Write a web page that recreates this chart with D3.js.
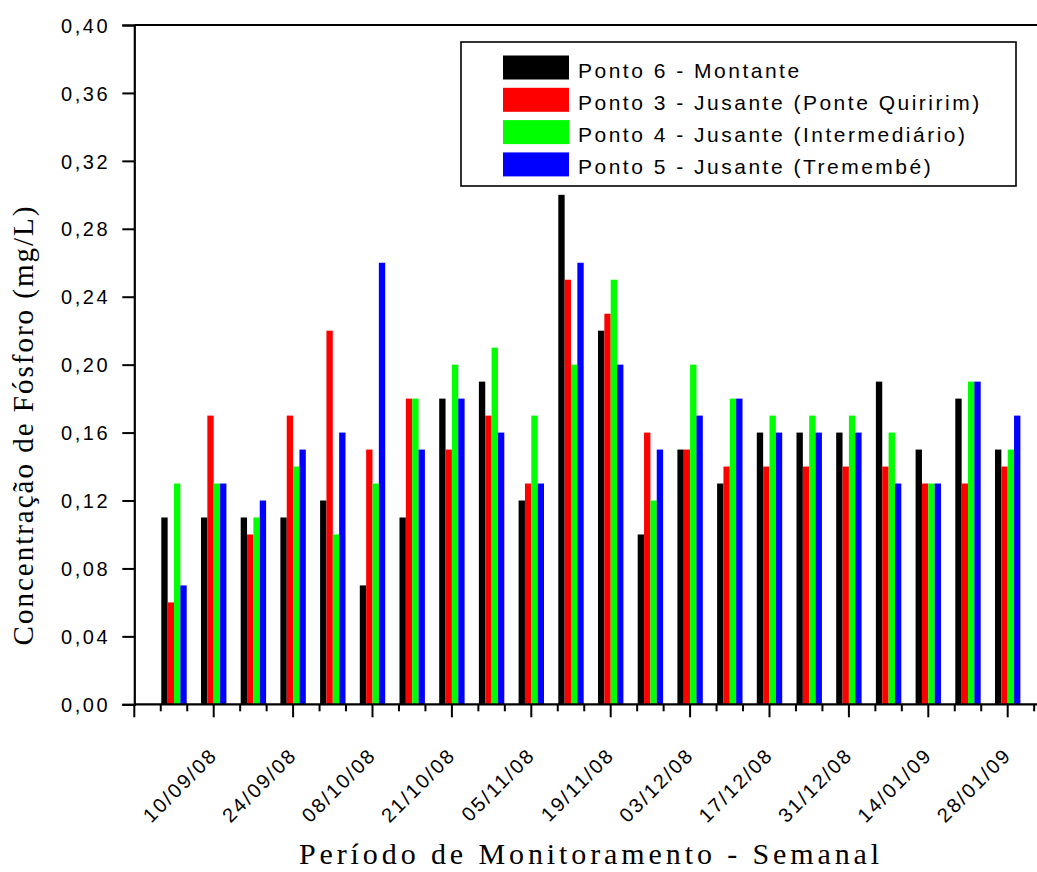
<!DOCTYPE html>
<html>
<head>
<meta charset="utf-8">
<script src="https://cdn.jsdelivr.net/npm/d3@7"></script>
<style>
  body { margin: 0; background: #fff; }
  text { fill: #000; }
</style>
</head>
<body>
<svg id="chart" width="1037" height="872"></svg>
<script>
// weekly samples, index 0..21 (labels only on every second one)
const semanas = [0, 1, 2, 3, 4, 5, 6, 7, 8, 9, 10, 11, 12, 13, 14, 15, 16, 17, 18, 19, 20, 21];
const tickIdx = [1, 3, 5, 7, 9, 11, 13, 15, 17, 19, 21];
const tickLabels = ["10/09/08", "24/09/08", "08/10/08", "21/10/08", "05/11/08", "19/11/08",
                    "03/12/08", "17/12/08", "31/12/08", "14/01/09", "28/01/09"];
const yTicks = [0, 0.04, 0.08, 0.12, 0.16, 0.20, 0.24, 0.28, 0.32, 0.36, 0.40];

const seriesNames = ["Ponto 6 - Montante", "Ponto 3 - Jusante (Ponte Quiririm)",
                     "Ponto 4 - Jusante (Intermediário)", "Ponto 5 - Jusante (Tremembé)"];
const colors = ["#000000", "#ff0000", "#00ff00", "#0000ff"];

const ponto6 = [0.11, 0.11, 0.11, 0.11, 0.12, 0.07, 0.11, 0.18, 0.19, 0.12, 0.30, 0.22, 0.10, 0.15, 0.13, 0.16, 0.16, 0.16, 0.19, 0.15, 0.18, 0.15];
const ponto3 = [0.06, 0.17, 0.10, 0.17, 0.22, 0.15, 0.18, 0.15, 0.17, 0.13, 0.25, 0.23, 0.16, 0.15, 0.14, 0.14, 0.14, 0.14, 0.14, 0.13, 0.13, 0.14];
const ponto4 = [0.13, 0.13, 0.11, 0.14, 0.10, 0.13, 0.18, 0.20, 0.21, 0.17, 0.20, 0.25, 0.12, 0.20, 0.18, 0.17, 0.17, 0.17, 0.16, 0.13, 0.19, 0.15];
const ponto5 = [0.07, 0.13, 0.12, 0.15, 0.16, 0.26, 0.15, 0.18, 0.16, 0.13, 0.26, 0.20, 0.15, 0.17, 0.18, 0.16, 0.16, 0.16, 0.13, 0.13, 0.19, 0.17];
const series = [ponto6, ponto3, ponto4, ponto5];

const svg = d3.select("#chart");
const W = 1037;

const x = d3.scaleLinear().domain([-1, 22]).range([134.3, 1047.4]);
const y = d3.scaleLinear().domain([0, 0.40]).range([704.3, 25]);

const barW = 0.16;   // in group units
const fmt = d3.formatLocale({decimal: ",", thousands: ".", grouping: [3], currency: ["", ""]}).format(".2f");

// bars
series.forEach((vals, j) => {
  svg.append("g").selectAll("rect")
    .data(vals)
    .join("rect")
    .attr("x", (d, i) => x(semanas[i] - 2 * barW + j * barW))
    .attr("width", x(barW) - x(0))
    .attr("y", d => y(d))
    .attr("height", d => y(0) - y(d))
    .attr("fill", colors[j]);
});

// x axis: major ticks every two weeks, two minor ticks between
const majors = d3.range(-1, 25, 2);
const minors = majors.flatMap(m => [m + 2 / 3, m + 4 / 3]);

const xAxis = svg.append("g").attr("transform", `translate(0,${y(0)})`);
xAxis.append("line")
  .attr("x1", x(-1)).attr("x2", W + 5)
  .attr("stroke", "#000").attr("stroke-width", 2.2);
xAxis.selectAll(".maj").data(majors).join("line")
  .attr("x1", d => x(d)).attr("x2", d => x(d))
  .attr("y1", 0).attr("y2", 13)
  .attr("stroke", "#000").attr("stroke-width", 2);
xAxis.selectAll(".min").data(minors).join("line")
  .attr("x1", d => x(d)).attr("x2", d => x(d))
  .attr("y1", 0).attr("y2", 7)
  .attr("stroke", "#000").attr("stroke-width", 2);

svg.append("g").selectAll("text")
  .data(tickIdx)
  .join("text")
  .attr("transform", d => `translate(${x(d) + 5},${y(0) + 52}) rotate(-45)`)
  .attr("text-anchor", "end")
  .attr("font-family", "Liberation Sans, Arial, sans-serif")
  .attr("font-size", 20)
  .attr("letter-spacing", 2.2)
  .text((d, i) => tickLabels[i]);

// y axis
const yAxis = svg.append("g").attr("transform", `translate(${x(-1)},0)`)
  .call(d3.axisLeft(y).tickValues(yTicks).tickFormat(fmt).tickSize(12).tickPadding(12));
yAxis.select(".domain").attr("stroke-width", 2.2);
yAxis.selectAll(".tick line").attr("stroke-width", 2);
yAxis.selectAll(".tick text")
  .attr("font-family", "Liberation Sans, Arial, sans-serif")
  .attr("font-size", 20)
  .attr("letter-spacing", 2.6)
  .attr("dy", "0.36em");

// top frame line
svg.append("line")
  .attr("x1", x(-1)).attr("x2", W + 5)
  .attr("y1", y(0.40)).attr("y2", y(0.40))
  .attr("stroke", "#000").attr("stroke-width", 2.2);

// axis titles
svg.append("text")
  .attr("x", 591).attr("y", 864)
  .attr("text-anchor", "middle")
  .attr("font-family", "Liberation Serif, Times New Roman, serif")
  .attr("font-size", 30)
  .attr("letter-spacing", 3.9)
  .text("Período de Monitoramento - Semanal");

svg.append("text")
  .attr("transform", "translate(33,425) rotate(-90)")
  .attr("text-anchor", "middle")
  .attr("font-family", "Liberation Serif, Times New Roman, serif")
  .attr("font-size", 29)
  .attr("letter-spacing", 2)
  .text("Concentração de Fósforo (mg/L)");

// legend
const leg = svg.append("g");
leg.append("rect")
  .attr("x", 461).attr("y", 42).attr("width", 555).attr("height", 144)
  .attr("fill", "#fff").attr("stroke", "#000").attr("stroke-width", 1.6);
const rows = leg.selectAll(".row").data(seriesNames).join("g")
  .attr("transform", (d, i) => `translate(503,${55.5 + i * 32.3})`);
rows.append("rect")
  .attr("width", 66).attr("height", 24)
  .attr("fill", (d, i) => colors[i]);
rows.append("text")
  .attr("x", 75).attr("y", 22)
  .attr("font-family", "Liberation Sans, Arial, sans-serif")
  .attr("font-size", 21)
  .attr("letter-spacing", 2.5)
  .text(d => d);
</script>
</body>
</html>
